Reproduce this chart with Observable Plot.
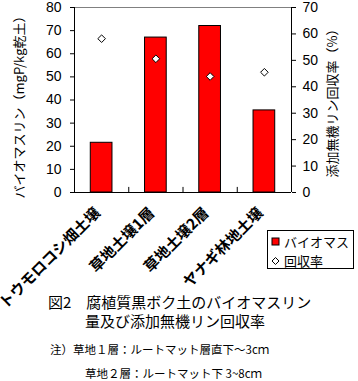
<!DOCTYPE html>
<html><head><meta charset="utf-8">
<script src="https://cdn.jsdelivr.net/npm/d3@7"></script>
<script src="https://cdn.jsdelivr.net/npm/@observablehq/plot@0.6"></script>
<style>body{margin:0;background:#fff}#c{position:relative;width:358px;height:381px;font-family:"Noto Sans CJK JP",sans-serif}</style>
</head><body><div id="c"></div>
<script>
const categories = ["トウモロコシ畑土壌", "草地土壌1層", "草地土壌2層", "ヤナギ林地土壌"];
const biomassP = [21.5, 67, 72, 35.5];
const recovery = [58.2, 50.6, 43.9, 45.5];
const leftTicks = [0, 10, 20, 30, 40, 50, 60, 70, 80];
const rightTicks = [0, 10, 20, 30, 40, 50, 60, 70];

const k = 80 / 70;
const data = categories.map((c, i) => ({cat: c, i, b: biomassP[i], r: recovery[i]}));
const FONT = "Noto Sans CJK JP, sans-serif";
const rhombus = {draw(ctx, size) {const h = Math.sqrt(size / Math.PI); ctx.moveTo(0, -h); ctx.lineTo(h, 0); ctx.lineTo(0, h); ctx.lineTo(-h, 0); ctx.closePath();}};

const plot = Plot.plot({
  width: 358, height: 381,
  marginLeft: 74, marginRight: 67, marginTop: 7, marginBottom: 189,
  style: {fontFamily: FONT, fontSize: "13px", color: "#000", background: "#fff"},
  x: {domain: [0, 4], axis: null},
  y: {domain: [0, 80], axis: null},
  marks: [
    Plot.axisY(leftTicks, {anchor: "left", tickSize: 4, tickPadding: 9, label: null, fontSize: 14, fontFamily: "Liberation Sans, sans-serif"}),
    Plot.axisY(rightTicks.map(v => v * k), {anchor: "right", tickSize: 4, tickPadding: 7, label: null, fontSize: 14,
      fontFamily: "Liberation Sans, sans-serif", tickFormat: d => Math.round(d / k)}),
    Plot.ruleY([80], {stroke: "#808080"}),
    Plot.rectY(data, {x1: d => d.i + 0.3, x2: d => d.i + 0.7, y: "b", fill: "#ff0000", stroke: "#000", strokeWidth: 1}),
    Plot.ruleX([0, 4], {stroke: "#000"}),
    Plot.ruleY([0], {stroke: "#000"}),
    Plot.ruleX([1, 2, 3], {y1: 0, y2: 2.2, stroke: "#000"}),
    Plot.dot(data, {x: d => d.i + 0.5, y: d => d.r * k, symbol: rhombus, r: 3.8, fill: "#fff", stroke: "#000", strokeWidth: 1}),
    Plot.text(data, {x: d => d.i + 0.5, y: 0, text: "cat", rotate: -45, textAnchor: "end", lineAnchor: "middle",
      dx: -4, dy: 18, fontSize: 15, fontWeight: "bold", fill: "#000"})
  ]
});
document.getElementById("c").appendChild(plot);

const svg = d3.select(plot);
svg.append("text").attr("transform", "translate(24,104) rotate(-90)").attr("text-anchor", "middle")
  .attr("font-size", 13).attr("font-family", FONT).text("バイオマスリン（mgP/kg乾土）");
svg.append("text").attr("transform", "translate(337,100) rotate(-90)").attr("text-anchor", "middle")
  .attr("font-size", 13).attr("font-family", FONT).text("添加無機リン回収率（%）");

// legend
const lg = svg.append("g").attr("font-family", FONT).attr("font-size", 13).attr("text-anchor", "start");
lg.append("rect").attr("x", 267.5).attr("y", 230.5).attr("width", 86).attr("height", 38).attr("fill", "#fff").attr("stroke", "#000");
lg.append("rect").attr("x", 272).attr("y", 238).attr("width", 7).attr("height", 7).attr("fill", "#f00").attr("stroke", "#000");
lg.append("text").attr("x", 284).attr("y", 246.5).text("バイオマス");
lg.append("path").attr("d", "M0,-3.5L3.5,0L0,3.5L-3.5,0Z").attr("transform", "translate(275.5,261)").attr("fill", "#fff").attr("stroke", "#000");
lg.append("text").attr("x", 284).attr("y", 265.5).text("回収率");

// caption
const cap = svg.append("g").attr("font-family", FONT).attr("fill", "#000").attr("text-anchor", "start");
cap.append("text").attr("x", 48).attr("y", 308).attr("font-size", 15).text("図2　腐植質黒ボク土のバイオマスリン");
cap.append("text").attr("x", 85).attr("y", 327).attr("font-size", 15).text("量及び添加無機リン回収率");
cap.append("text").attr("x", 50).attr("y", 354).attr("font-size", 11.5).text("注）草地１層：ルートマット層直下～3cｍ");
cap.append("text").attr("x", 85).attr("y", 378).attr("font-size", 11.5).text("草地２層：ルートマット下 3~8cｍ");
</script></body></html>
